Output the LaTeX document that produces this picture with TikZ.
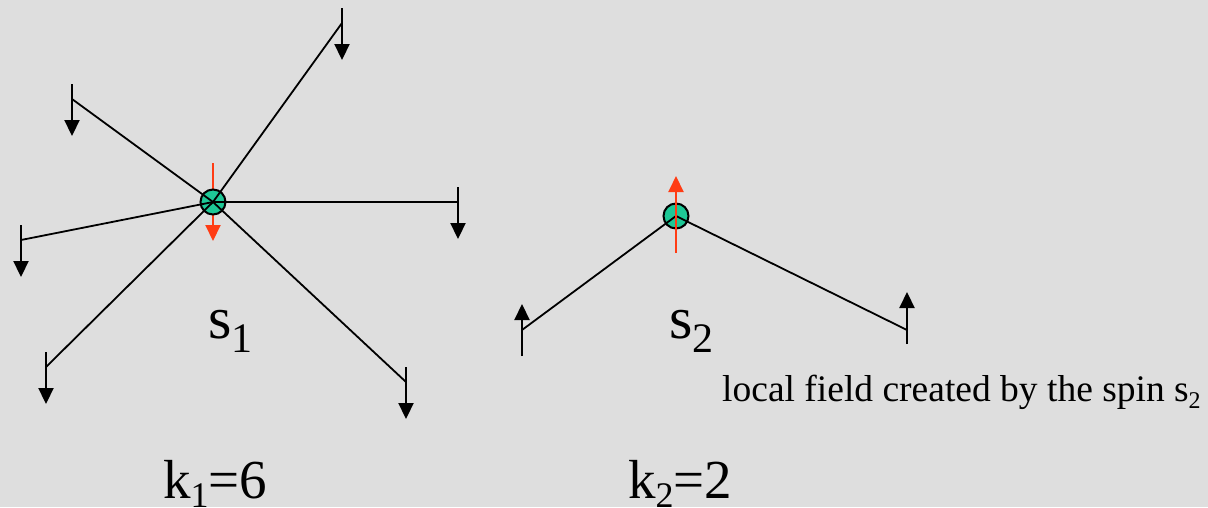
\documentclass[tikz,border=0pt]{standalone}
\usepackage{fontspec}
\setmainfont{Liberation Serif}
\usetikzlibrary{arrows.meta}
\definecolor{marble}{RGB}{222,222,222}
\definecolor{spingreen}{RGB}{30,200,150}
\definecolor{spinred}{RGB}{255,60,20}
\tikzset{
  bond/.style={line width=1.8pt, black},
  blackspin/.style={line width=2.2pt, black, -{Triangle[length=16pt,width=15pt]}},
  redspin/.style={line width=2pt, spinred, -{Triangle[length=16pt,width=15pt]}},
  site/.style={circle, draw=black, line width=2pt, fill=spingreen, minimum size=25pt, inner sep=0pt},
  lbl/.style={anchor=base west, inner sep=0pt, text=black},
}
\begin{document}
\begin{tikzpicture}[x=1pt,y=-1pt]
\fill[marble] (0,0) rectangle (1208,507);
\useasboundingbox (0,0) rectangle (1208,507);

% ---- spin s1 with six neighbours
\coordinate (r1t) at (213,163);
\coordinate (r1h) at (213,241);
\draw[redspin] (r1t) -- (r1h);
\node[site] (c1) at (213,202) {};
\foreach \n/\x/\y in {a/342/23, b/72/99, c/21/240, d/458/202, e/46/367, f/406/382}{
  \coordinate (\n) at (\x,\y);
  \coordinate (\n t) at (\x,\y-15);
  \coordinate (\n h) at (\x,\y+37);
  \draw[bond] (c1.center) -- (\n);
  \draw[blackspin] (\n t) -- (\n h);
}

% ---- spin s2 with two neighbours
\node[site] (c2) at (676,216) {};
\coordinate (g) at (522,330);
\coordinate (gt) at (522,356);
\coordinate (gh) at (522,304);
\coordinate (h) at (907,330);
\coordinate (ht) at (907,344);
\coordinate (hh) at (907,292);
\draw[bond] (c2.center) -- (g);
\draw[bond] (c2.center) -- (h);
\draw[blackspin] (gt) -- (gh);
\draw[blackspin] (ht) -- (hh);
\coordinate (r2t) at (676,253);
\coordinate (r2h) at (676,176);
\draw[redspin] (r2t) -- (r2h);

% ---- labels
\node[lbl, font=\fontsize{60}{60}\selectfont] (s1) at (208,338)
  {s\raisebox{-0.24em}{\fontsize{42}{42}\selectfont 1}};
\node[lbl, font=\fontsize{60}{60}\selectfont] (s2) at (669,338)
  {s\raisebox{-0.24em}{\fontsize{42}{42}\selectfont 2}};
\node[lbl, font=\fontsize{55}{55}\selectfont] (k1) at (163,498)
  {k\raisebox{-0.18em}{\fontsize{36}{36}\selectfont 1}=6};
\node[lbl, font=\fontsize{55}{55}\selectfont] (k2) at (628,498)
  {k\raisebox{-0.18em}{\fontsize{36}{36}\selectfont 2}=2};
\node[lbl, font=\fontsize{37.5}{37.5}\selectfont] (lf) at (722,401)
  {local field created by the spin s\raisebox{-0.2em}{\fontsize{24}{24}\selectfont 2}};
\end{tikzpicture}
\end{document}
